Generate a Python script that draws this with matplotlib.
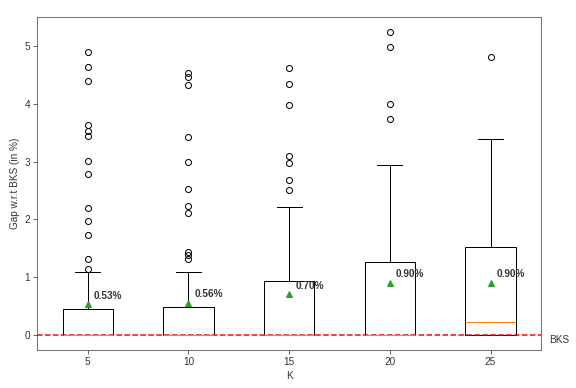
import matplotlib
matplotlib.use("Agg")
import matplotlib.pyplot as plt

plt.rcParams['font.family'] = ['Liberation Sans', 'DejaVu Sans']

K = [5, 10, 15, 20, 25]
q1 = [0.0, 0.0, 0.0, 0.0, 0.0]
medians = [0.0, 0.0, 0.0, 0.0, 0.225]
q3 = [0.44, 0.485, 0.935, 1.265, 1.515]
whis_lo = [0.0, 0.0, 0.0, 0.0, 0.0]
whis_hi = [1.08, 1.08, 2.22, 2.935, 3.40]
means = [0.53, 0.56, 0.70, 0.90, 0.90]
fliers_k5 = [4.90, 4.635, 4.40, 3.635, 3.54, 3.44, 3.02, 2.79, 2.205, 1.975, 1.725, 1.32, 1.135]
fliers_k10 = [4.53, 4.46, 4.33, 3.43, 3.00, 2.525, 2.235, 2.11, 1.43, 1.375, 1.32]
fliers_k15 = [4.62, 4.34, 3.98, 3.10, 2.98, 2.68, 2.505]
fliers_k20 = [5.25, 4.99, 4.00, 3.745]
fliers_k25 = [4.81]
fliers = [fliers_k5, fliers_k10, fliers_k15, fliers_k20, fliers_k25]

stats = []
for i in range(len(K)):
    stats.append(dict(q1=q1[i], med=medians[i], q3=q3[i], whislo=whis_lo[i],
                      whishi=whis_hi[i], mean=means[i], fliers=fliers[i],
                      label=str(K[i])))

fig = plt.figure(figsize=(8, 388 / 72), dpi=72)
ax = fig.add_axes([0.065, 0.098, 0.874, 0.859])

ax.bxp(stats, positions=K, widths=2.5, showmeans=True,
       flierprops=dict(marker='o', markerfacecolor='none', markeredgecolor='black', markersize=6),
       meanprops=dict(marker='^', markerfacecolor='#2ca02c', markeredgecolor='#2ca02c', markersize=6),
       medianprops=dict(color='#ff7f0e', linewidth=1))

for k, m in zip(K, means):
    ax.text(k + 0.3, m + 0.15, f"{m:.2f}%", fontsize=10, fontweight='bold',
            color='0.2', ha='left', va='center')

ax.axhline(0, color='red', linestyle='--', linewidth=1.5)
ax.set_xlim(2.5, 27.5)
ax.set_ylim(-0.2625, 5.5125)
ax.text(27.9, 0, 'BKS', fontsize=10, color='0.2', ha='left', va='top')

ax.set_xlabel('K', fontsize=10, color='0.2')
ax.set_ylabel('Gap w.r.t BKS (in %)', fontsize=10, color='0.2')
ax.set_yticks([0, 1, 2, 3, 4, 5])
ax.tick_params(colors='0.25', labelcolor='0.2', labelsize=10, length=4)
for s in ax.spines.values():
    s.set_color('0.3')

fig.savefig('out.png', dpi=72)
